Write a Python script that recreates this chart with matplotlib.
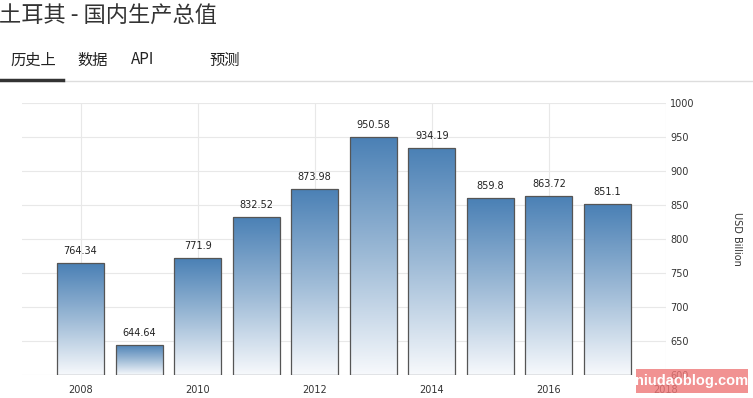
import numpy as np
import matplotlib.pyplot as plt
from matplotlib.colors import LinearSegmentedColormap
from matplotlib.patches import Rectangle

plt.rcParams['font.family'] = ['Noto Sans CJK SC', 'DejaVu Sans']

years = [2008, 2009, 2010, 2011, 2012, 2013, 2014, 2015, 2016, 2017]
gdp = [764.34, 644.64, 771.9, 832.52, 873.98, 950.58, 934.19, 859.8, 863.72, 851.1]
value_labels = ['764.34', '644.64', '771.9', '832.52', '873.98', '950.58', '934.19', '859.8', '863.72', '851.1']
x_ticks = [2008, 2010, 2012, 2014, 2016, 2018]
y_ticks = [600, 650, 700, 750, 800, 850, 900, 950, 1000]
title = '土耳其 - 国内生产总值'
tabs = ['历史上', '数据', 'API', '预测']
tab_x = [10, 77, 131, 209]

fig = plt.figure(figsize=(7.53, 3.98), dpi=100)
W, H = 753, 398

# header
fig.text(-1 / W, 1 - 16 / H, title, fontsize=16, color='#333333', va='center', ha='left')
for t, px in zip(tabs, tab_x):
    fig.text(px / W, 1 - 60 / H, t, fontsize=11, color='#222222', va='center', ha='left')
fig.add_artist(plt.Line2D([63 / W, 1], [1 - 81 / H, 1 - 81 / H], color='#dddddd', lw=1))
fig.add_artist(plt.Line2D([0, 63 / W], [1 - 80 / H, 1 - 80 / H], color='#333333', lw=2.5))

ax = fig.add_axes([22 / W, 23 / H, (666 - 22) / W, (375 - 103) / H])
ax.set_xlim(2007, 2018)
ax.set_ylim(600, 1000)

cmap = LinearSegmentedColormap.from_list('grad', ['#f7f9fc', '#9dbad6', '#4a80b5'])
grad = np.linspace(0, 1, 256).reshape(-1, 1)

bars = ax.bar(years, np.array(gdp) - 600, bottom=600, width=0.8,
              facecolor='none', edgecolor='#555555', linewidth=0.9, zorder=3)
for b in bars:
    x0, y0 = b.get_x(), b.get_y()
    w, h = b.get_width(), b.get_height()
    im = ax.imshow(grad, cmap=cmap, origin='lower', aspect='auto',
                   extent=[x0, x0 + w, y0, y0 + h], zorder=2)
    im.set_clip_path(b)

for yr, v, lab in zip(years, gdp, value_labels):
    ax.annotate(lab, (yr, v), xytext=(0, 5), textcoords='offset points',
                ha='center', va='bottom', fontsize=7, color='#222222',
                family='DejaVu Sans')

ax.set_xticks(x_ticks)
ax.set_xticklabels([str(v) for v in x_ticks], fontsize=7, color='#333333', family='DejaVu Sans')
ax.set_yticks(y_ticks)
ax.yaxis.tick_right()
ax.set_yticklabels([str(v) for v in y_ticks], fontsize=7, color='#333333', family='DejaVu Sans')
ax.tick_params(axis='both', length=0, pad=3)
ax.tick_params(axis='x', pad=7)
ax.grid(True, color='#e8e8e8', lw=0.8, zorder=0)
for s in ax.spines.values():
    s.set_visible(False)
ax.yaxis.set_label_position('right')
ax.set_ylabel('USD Billion', rotation=270, fontsize=7, color='#333333',
              labelpad=34, family='DejaVu Sans')

# watermark
fig.add_artist(Rectangle((636 / W, 1 - 393 / H), 112 / W, 24 / H, transform=fig.transFigure,
                         facecolor='#ee7777', alpha=0.8, edgecolor='none', zorder=10))
fig.text(692 / W, 1 - 381 / H, 'niudaoblog.com', fontsize=10.5, color='white', fontweight='bold',
         ha='center', va='center', zorder=11, family='Liberation Sans')

fig.savefig('out.png', dpi=100)
